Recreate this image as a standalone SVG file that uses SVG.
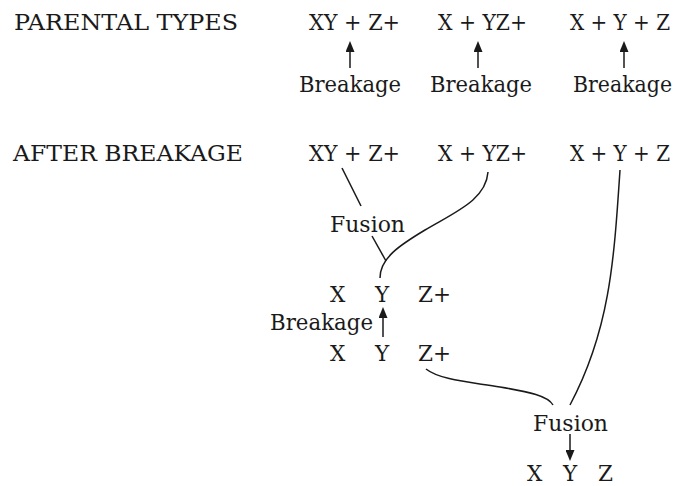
<svg xmlns="http://www.w3.org/2000/svg" width="677" height="486" viewBox="0 0 677 486">
<style>
text{font-family:"DejaVu Serif",serif;font-size:21.5px;fill:#1a1a1a}
.c{fill:none;stroke:#1a1a1a;stroke-width:1.5}
</style>
<defs>
<marker id="ah" viewBox="0 0 11 9" refX="8" refY="4.5" markerWidth="11" markerHeight="9" markerUnits="userSpaceOnUse" orient="auto">
<path d="M0 0 L11 4.5 L0 9 Z" fill="#1a1a1a"/>
</marker>
</defs>
<rect width="677" height="486" fill="#fff"/>
<g id="labels">
<text x="14" y="30" textLength="224" lengthAdjust="spacingAndGlyphs">PARENTAL TYPES</text>
<text x="13" y="161" textLength="230" lengthAdjust="spacingAndGlyphs">AFTER BREAKAGE</text>
</g>
<g id="p1"><text x="309" y="30" textLength="91" lengthAdjust="spacingAndGlyphs">XY + Z+</text></g>
<g id="p2"><text x="438" y="30" textLength="89" lengthAdjust="spacingAndGlyphs">X + YZ+</text></g>
<g id="p3"><text x="570" y="30" textLength="100" lengthAdjust="spacingAndGlyphs">X + Y + Z</text></g>
<g id="b1"><text x="299" y="92" textLength="102" lengthAdjust="spacingAndGlyphs">Breakage</text></g>
<g id="b2"><text x="430" y="92" textLength="102" lengthAdjust="spacingAndGlyphs">Breakage</text></g>
<g id="b3"><text x="573" y="92" textLength="99" lengthAdjust="spacingAndGlyphs">Breakage</text></g>
<g id="a1"><text x="309" y="161" textLength="91" lengthAdjust="spacingAndGlyphs">XY + Z+</text></g>
<g id="a2"><text x="438" y="161" textLength="89" lengthAdjust="spacingAndGlyphs">X + YZ+</text></g>
<g id="a3"><text x="570" y="161" textLength="100" lengthAdjust="spacingAndGlyphs">X + Y + Z</text></g>
<g id="fusion1"><text x="330" y="232" textLength="75" lengthAdjust="spacingAndGlyphs">Fusion</text></g>
<g id="xyz1"><text y="302"><tspan x="330">X</tspan><tspan x="375">Y</tspan><tspan x="418">Z+</tspan></text></g>
<g id="breakage4"><text x="270" y="330" textLength="103" lengthAdjust="spacingAndGlyphs">Breakage</text></g>
<g id="xyz2"><text y="361"><tspan x="330">X</tspan><tspan x="375">Y</tspan><tspan x="418">Z+</tspan></text></g>
<g id="fusion2"><text x="533" y="431" textLength="75" lengthAdjust="spacingAndGlyphs">Fusion</text></g>
<g id="xyz3"><text y="481"><tspan x="527">X</tspan><tspan x="563">Y</tspan><tspan x="598">Z</tspan></text></g>
<g id="connectors">
<line class="c" x1="350" y1="68" x2="350" y2="44" marker-end="url(#ah)"/>
<line class="c" x1="478" y1="68" x2="478" y2="44" marker-end="url(#ah)"/>
<line class="c" x1="624" y1="68" x2="624" y2="44" marker-end="url(#ah)"/>
<line class="c" x1="342" y1="168" x2="361" y2="206"/>
<line class="c" x1="372" y1="236" x2="386" y2="261"/>
<path class="c" d="M488 172 C486 200 455 212 425 230 C400 245 380 258 380 278"/>
<line class="c" x1="383" y1="337" x2="383" y2="310" marker-end="url(#ah)"/>
<path class="c" d="M426 369 C440 380 470 382 500 387 C530 392 548 396 553 405"/>
<path class="c" d="M620 170 C614 260 610 330 570 405"/>
<line class="c" x1="570" y1="434" x2="570" y2="458" marker-end="url(#ah)"/>
</g>
</svg>
